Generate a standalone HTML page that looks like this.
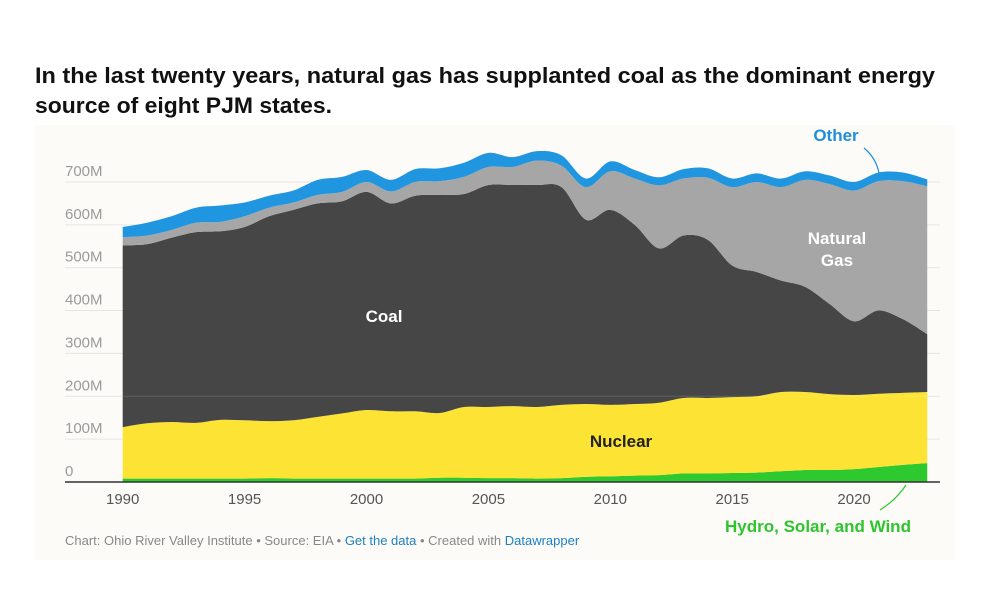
<!DOCTYPE html>
<html><head><meta charset="utf-8"><style>
html,body{margin:0;padding:0;background:#fff;}
svg{display:block;font-family:"Liberation Sans",sans-serif;}
</style></head><body>
<svg id="chart" width="1000" height="590" viewBox="0 0 1000 590">
<rect x="35" y="125" width="920" height="435" fill="#fcfbf7"/>
<text x="35" y="83" font-size="22" font-weight="bold" fill="#111" textLength="900" lengthAdjust="spacingAndGlyphs">In the last twenty years, natural gas has supplanted coal as the dominant energy</text>
<text x="35" y="113" font-size="22" font-weight="bold" fill="#111" textLength="297" lengthAdjust="spacingAndGlyphs">source of eight PJM states.</text>
<g id="grid"></g>
<g id="areas"></g>
<g id="xaxis"></g>
<text x="384" y="322" font-size="17" font-weight="bold" fill="#fff" text-anchor="middle">Coal</text>
<text x="837" y="244" font-size="17" font-weight="bold" fill="#fff" text-anchor="middle">Natural</text>
<text x="837" y="266" font-size="17" font-weight="bold" fill="#fff" text-anchor="middle">Gas</text>
<text x="621" y="447" font-size="17" font-weight="bold" fill="#222" text-anchor="middle">Nuclear</text>
<text x="836" y="141" font-size="17" font-weight="bold" fill="#1e8fdd" text-anchor="middle">Other</text>
<path d="M864 148 Q876 158 879 173" fill="none" stroke="#1e8fdd" stroke-width="1.2"/>
<text x="818" y="532" font-size="17" font-weight="bold" fill="#2ec52e" text-anchor="middle">Hydro, Solar, and Wind</text>
<path d="M880 510 Q896 500 906 485" fill="none" stroke="#2ec52e" stroke-width="1.2"/>
<text x="65" y="545" font-size="13" fill="#888">Chart: Ohio River Valley Institute • Source: EIA • <tspan fill="#1d81c2">Get the data</tspan> • Created with <tspan fill="#1d81c2">Datawrapper</tspan></text>
</svg>
<script>
const years = [1990,1991,1992,1993,1994,1995,1996,1997,1998,1999,2000,2001,2002,2003,2004,2005,2006,2007,2008,2009,2010,2011,2012,2013,2014,2015,2016,2017,2018,2019,2020,2021,2022,2023];
const hydroSolarWind = [8,8,8,8,8,8,9,8,8,8,8,8,8,10,10,9,9,8,9,12,13,15,16,20,20,21,22,25,28,28,30,35,40,44];
const nuclear = [120,129,132,130,137,136,133,136,144,152,160,157,157,151,165,166,168,167,171,170,167,167,169,176,176,177,178,185,182,177,173,171,168,166];
const coal = [424,418,430,445,440,451,478,491,498,495,509,485,503,509,497,518,516,518,508,430,455,418,360,379,369,307,290,260,245,210,172,194,172,135];
const naturalGas = [19,20,18,22,22,25,20,17,20,22,23,28,32,32,40,42,42,57,50,76,90,108,147,133,145,183,210,218,250,280,305,302,322,345];
const other = [24,30,32,35,38,32,28,28,35,35,28,27,30,30,33,33,23,22,24,20,23,20,19,22,22,20,20,20,20,20,20,20,20,16];
const yTicks = [0,100,200,300,400,500,600,700];
const yTickLabels = ["0","100M","200M","300M","400M","500M","600M","700M"];
const xTicks = [1990,1995,2000,2005,2010,2015,2020];

const NS = "http://www.w3.org/2000/svg";
const xScale = y => 122.7 + (y - 1990) * 24.38;
const yScale = v => 482 - v * 0.4286;

const grid = document.getElementById('grid');
yTicks.forEach((t, i) => {
  const ln = document.createElementNS(NS, 'line');
  ln.setAttribute('x1', 65); ln.setAttribute('x2', 940);
  ln.setAttribute('y1', yScale(t)); ln.setAttribute('y2', yScale(t));
  ln.setAttribute('stroke', '#e6e6e6'); ln.setAttribute('stroke-width', 1);
  
  
  grid.appendChild(ln);
  const tx = document.createElementNS(NS, 'text');
  tx.setAttribute('x', 65); tx.setAttribute('y', yScale(t) - 6);
  tx.setAttribute('font-size', 15); tx.setAttribute('fill', '#9a9a9a');
  tx.textContent = yTickLabels[i];
  
  
  grid.appendChild(tx);
});

function smoothPath(pts) {
  let d = `M${pts[0][0]},${pts[0][1]}`;
  for (let i = 0; i < pts.length - 1; i++) {
    const p0 = pts[Math.max(0, i - 1)], p1 = pts[i], p2 = pts[i + 1], p3 = pts[Math.min(pts.length - 1, i + 2)];
    const c1 = [p1[0] + (p2[0] - p0[0]) / 6, p1[1] + (p2[1] - p0[1]) / 6];
    const c2 = [p2[0] - (p3[0] - p1[0]) / 6, p2[1] - (p3[1] - p1[1]) / 6];
    d += ` C${c1[0]},${c1[1]} ${c2[0]},${c2[1]} ${p2[0]},${p2[1]}`;
  }
  return d;
}

const series = [
  {vals: hydroSolarWind, color: '#2ec92e', name: 'hydro-solar-wind-area'},
  {vals: nuclear, color: '#fde333', name: 'nuclear-area'},
  {vals: coal, color: '#464646', name: 'coal-area'},
  {vals: naturalGas, color: '#a6a6a6', name: 'natural-gas-area'},
  {vals: other, color: '#2196e0', name: 'other-area'}
];
const areas = document.getElementById('areas');
let base = years.map(() => 0);
series.forEach(s => {
  const top = base.map((b, i) => b + s.vals[i]);
  const topPts = years.map((y, i) => [xScale(y), yScale(top[i])]);
  const botPts = years.map((y, i) => [xScale(y), yScale(base[i])]).reverse();
  const botPath = smoothPath(botPts).replace(/^M/, 'L');
  const p = document.createElementNS(NS, 'path');
  p.setAttribute('d', smoothPath(topPts) + ' ' + botPath + ' Z');
  p.setAttribute('fill', s.color);
  
  
  areas.appendChild(p);
  base = top;
});
const mid = document.createElementNS(NS, 'line');
mid.setAttribute('x1', 123); mid.setAttribute('x2', 928);
mid.setAttribute('y1', yScale(200)); mid.setAttribute('y2', yScale(200));
mid.setAttribute('stroke', 'rgba(255,255,255,0.15)');


areas.appendChild(mid);

const xaxis = document.getElementById('xaxis');
const axisLine = document.createElementNS(NS, 'line');
axisLine.setAttribute('x1', 65); axisLine.setAttribute('x2', 940);
axisLine.setAttribute('y1', 482); axisLine.setAttribute('y2', 482);
axisLine.setAttribute('stroke', '#333'); axisLine.setAttribute('stroke-width', 1.5);


xaxis.appendChild(axisLine);
xTicks.forEach(t => {
  const tx = document.createElementNS(NS, 'text');
  tx.setAttribute('x', xScale(t)); tx.setAttribute('y', 504);
  tx.setAttribute('font-size', 15); tx.setAttribute('fill', '#555');
  tx.setAttribute('text-anchor', 'middle');
  tx.textContent = t;
  
  
  xaxis.appendChild(tx);
});
</script>
</body></html>
